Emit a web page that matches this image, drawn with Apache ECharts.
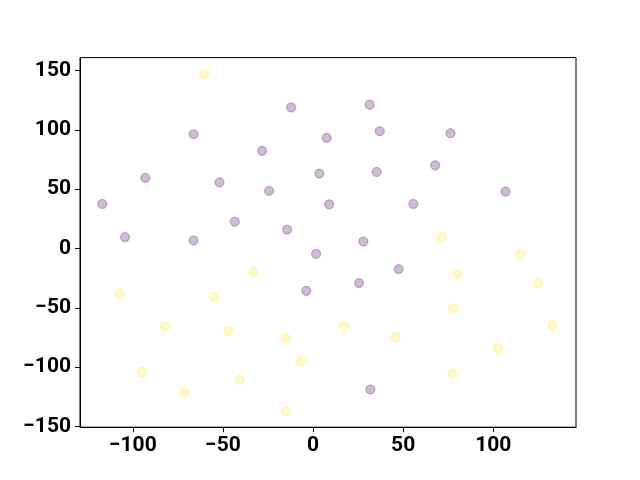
<!DOCTYPE html>
<html><head><meta charset="utf-8">
<script src="https://cdn.jsdelivr.net/npm/echarts@6/dist/echarts.min.js"></script>
<style>html,body{margin:0;padding:0;background:#fff}#c{width:640px;height:480px}</style>
</head><body><div id="c"></div>
<script>
const class0Points = [
  [-116.9, 37.5], [-104.3, 9.6], [-93.1, 59.5], [-66.3, 96.3], [-66.3, 6.8],
  [-51.9, 55.7], [-43.4, 22.6], [-28.3, 82.3], [-24.4, 48.5], [-12.2, 118.8],
  [-14.4, 15.8], [1.7, -4.5], [-3.7, -35.7], [3.5, 63.1], [7.6, 93.2],
  [8.9, 37.2], [31.4, 121.1], [37.0, 98.8], [76.3, 97.1], [35.3, 64.5],
  [67.8, 70.1], [55.6, 37.5], [106.8, 47.9], [27.9, 5.9], [47.5, -17.4],
  [25.5, -29.2], [31.8, -118.8]
];
const class1Points = [
  [-60.4, 146.7], [-33.2, -19.7], [-107.3, -38.0], [-55.0, -41.0], [-82.0, -65.5],
  [-46.9, -69.5], [-15.3, -75.7], [-6.8, -95.1], [-94.9, -104.1], [-40.6, -110.6],
  [-71.1, -121.3], [-15.0, -137.1], [71.3, 9.6], [114.9, -4.5], [80.2, -21.9],
  [124.7, -29.2], [77.6, -50.4], [17.2, -65.6], [132.8, -64.7], [45.8, -74.8],
  [102.7, -84.1], [77.4, -105.2]
];
const xTicks = [-100, -50, 0, 50, 100];
const yTicks = [-150, -100, -50, 0, 50, 100, 150];

const fmt = v => String(v).replace('-', '\u2212');
const labelStyle = {color: '#000', fontFamily: 'Roboto', fontWeight: 'bold', fontSize: 21, formatter: fmt};
const chart = echarts.init(document.getElementById('c'), null, {renderer: 'canvas'});
chart.setOption({
  animation: false,
  backgroundColor: '#fff',
  grid: {left: 80, right: 64, top: 57.6, bottom: 52.8, show: true, borderColor: '#000', borderWidth: 1, backgroundColor: 'transparent'},
  xAxis: {
    type: 'value', min: -129.3, max: 145.9,
    splitLine: {show: false},
    axisLine: {show: true, onZero: false, lineStyle: {color: '#000', width: 1}},
    axisTick: {show: true, customValues: xTicks, length: 5, lineStyle: {color: '#000', width: 1}},
    axisLabel: Object.assign({customValues: xTicks, margin: 8}, labelStyle)
  },
  yAxis: {
    type: 'value', min: -150.6, max: 160.8,
    splitLine: {show: false},
    axisLine: {show: true, onZero: false, lineStyle: {color: '#000', width: 1}},
    axisTick: {show: true, customValues: yTicks, length: 5, lineStyle: {color: '#000', width: 1}},
    axisLabel: Object.assign({customValues: yTicks, margin: 9}, labelStyle)
  },
  series: [
    {type: 'scatter', data: class0Points, symbolSize: 9,
     itemStyle: {color: 'rgba(68,1,84,0.33)', borderColor: 'rgba(68,1,84,0.33)', borderWidth: 1.3}},
    {type: 'scatter', data: class1Points, symbolSize: 9,
     itemStyle: {color: 'rgba(253,231,37,0.33)', borderColor: 'rgba(253,231,37,0.33)', borderWidth: 1.3}}
  ]
});
</script></body></html>
